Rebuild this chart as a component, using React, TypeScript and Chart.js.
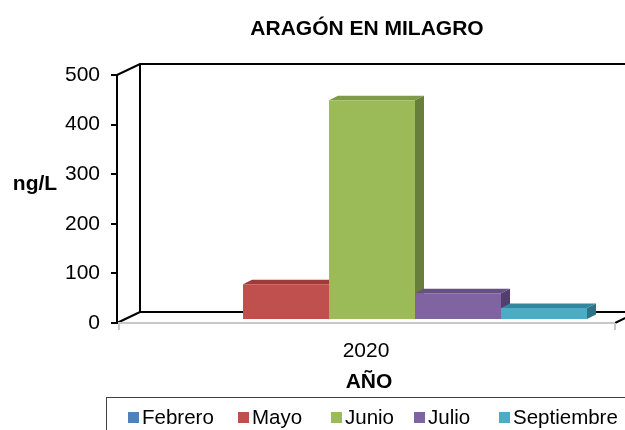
import React, { useEffect, useRef } from "react";
import { Chart, registerables } from "chart.js";

Chart.register(...registerables);

// ---- data ----
const categories = ["2020"];
const seriesNames = ["Febrero", "Mayo", "Junio", "Julio", "Septiembre"];
const febrero = [0];
const mayo = [72];
const junio = [443];
const julio = [54];
const septiembre = [24];
const seriesValues = [febrero, mayo, junio, julio, septiembre];
const yTicks = [0, 100, 200, 300, 400, 500];
const chartTitle = "ARAGÓN EN MILAGRO";
const yTitle = "ng/L";
const xTitle = "AÑO";

// ---- styles ----
const frontColors = ["#4F81BD", "#C0504D", "#9BBB59", "#8064A2", "#4BACC6"];
const topColors = ["#3C6596", "#9E3B39", "#7F9A48", "#654F83", "#32879E"];
const sideColors = ["#34578A", "#8A3431", "#677F3B", "#523F6C", "#2B7488"];
const FONT = '"Liberation Sans", Arial, Helvetica, sans-serif';

const WALL = { dx: 23, dy: -11 };
const BAR_SHIFT = { dx: 6, dy: -3 };
const BAR_DEPTH = { dx: 9, dy: -4.5 };
const LEGEND_X = [128, 238, 331, 414, 499];

const threeD = {
  id: "threeD",
  beforeDatasetsDraw(chart: any) {
    const ctx = chart.ctx;
    const a = chart.chartArea;
    ctx.save();
    // back wall + side wall outline
    ctx.strokeStyle = "#000";
    ctx.lineWidth = 2;
    ctx.lineJoin = "miter";
    ctx.beginPath();
    ctx.moveTo(a.left, a.top);
    ctx.lineTo(a.left + WALL.dx, a.top + WALL.dy);
    ctx.lineTo(a.right + WALL.dx, a.top + WALL.dy);
    ctx.moveTo(a.left + WALL.dx, a.top + WALL.dy);
    ctx.lineTo(a.left + WALL.dx, a.bottom + WALL.dy);
    ctx.lineTo(a.right + WALL.dx, a.bottom + WALL.dy);
    ctx.moveTo(a.left, a.bottom);
    ctx.lineTo(a.left + WALL.dx, a.bottom + WALL.dy);
    ctx.moveTo(a.right, a.bottom);
    ctx.lineTo(a.right + WALL.dx, a.bottom + WALL.dy);
    ctx.stroke();
    // front floor edge (gray)
    ctx.strokeStyle = "#C8C8C8";
    ctx.lineWidth = 2;
    ctx.beginPath();
    ctx.moveTo(a.left + 1, a.bottom);
    ctx.lineTo(a.right, a.bottom);
    ctx.moveTo(a.left + 2, a.bottom);
    ctx.lineTo(a.left + 2, a.bottom + 7);
    ctx.moveTo(a.right, a.bottom);
    ctx.lineTo(a.right, a.bottom + 7);
    ctx.stroke();

    // side and top faces of bars
    chart.data.datasets.forEach((ds: any, i: number) => {
      const meta = chart.getDatasetMeta(i);
      meta.data.forEach((bar: any, j: number) => {
        const v = ds.data[j];
        if (!v) return;
        const left = bar.x - bar.width / 2 + BAR_SHIFT.dx;
        const right = bar.x + bar.width / 2 + BAR_SHIFT.dx;
        const top = bar.y + BAR_SHIFT.dy;
        const bottom = bar.base + BAR_SHIFT.dy;
        ctx.fillStyle = sideColors[i];
        ctx.beginPath();
        ctx.moveTo(right, top);
        ctx.lineTo(right + BAR_DEPTH.dx, top + BAR_DEPTH.dy);
        ctx.lineTo(right + BAR_DEPTH.dx, bottom + BAR_DEPTH.dy);
        ctx.lineTo(right, bottom);
        ctx.closePath();
        ctx.fill();
        ctx.fillStyle = topColors[i];
        ctx.beginPath();
        ctx.moveTo(left, top);
        ctx.lineTo(right, top);
        ctx.lineTo(right + BAR_DEPTH.dx, top + BAR_DEPTH.dy);
        ctx.lineTo(left + BAR_DEPTH.dx, top + BAR_DEPTH.dy);
        ctx.closePath();
        ctx.fill();
      });
    });
    ctx.restore();
    ctx.save();
    ctx.translate(BAR_SHIFT.dx, BAR_SHIFT.dy);
  },
  afterDatasetsDraw(chart: any) {
    chart.ctx.restore();
  },
  afterDraw(chart: any) {
    const ctx = chart.ctx;
    const a = chart.chartArea;
    const xs = chart.scales.x;
    ctx.save();
    ctx.fillStyle = "#000";
    ctx.textAlign = "center";
    ctx.textBaseline = "alphabetic";
    // title
    ctx.font = `bold 21px ${FONT}`;
    ctx.fillText(chartTitle, (a.left + a.right) / 2 + 1, 35);
    // y title
    ctx.fillText(yTitle, 35, 190);
    // x labels
    ctx.font = `21px ${FONT}`;
    categories.forEach((c, k) => {
      ctx.fillText(c, xs.getPixelForValue(k), 357);
    });
    ctx.font = `bold 21px ${FONT}`;
    ctx.fillText(xTitle, (a.left + a.right) / 2 + 3, 388);
    // legend box
    ctx.strokeStyle = "#404040";
    ctx.lineWidth = 1;
    ctx.strokeRect(106.5, 397.5, 560, 60);
    ctx.font = `20.5px ${FONT}`;
    ctx.textAlign = "left";
    seriesNames.forEach((n, i) => {
      const x = LEGEND_X[i];
      ctx.fillStyle = frontColors[i];
      ctx.fillRect(x, 412, 11, 11);
      ctx.fillStyle = "#000";
      ctx.fillText(n, x + 14, 424);
    });
    ctx.restore();
  },
};

export default function App() {
  const ref = useRef<HTMLCanvasElement | null>(null);
  useEffect(() => {
    if (!ref.current) return;
    const chart = new Chart(ref.current, {
      type: "bar",
      data: {
        labels: categories,
        datasets: seriesNames.map((n, i) => ({
          label: n,
          data: seriesValues[i],
          backgroundColor: frontColors[i],
          borderWidth: 0,
          categoryPercentage: 0.8635,
          barPercentage: 1,
        })),
      },
      options: {
        animation: false,
        responsive: true,
        maintainAspectRatio: false,
        layout: { padding: { left: 0, top: 75, right: 10, bottom: 107 } },
        plugins: {
          legend: { display: false },
          title: { display: false },
          tooltip: { enabled: false },
        },
        scales: {
          x: { display: false },
          y: {
            min: 0,
            max: 500,
            afterBuildTicks: (s: any) => {
              s.ticks = yTicks.map((v) => ({ value: v }));
            },
            afterFit: (s: any) => {
              s.width = 117;
            },
            ticks: {
              color: "#000",
              font: { family: FONT, size: 21 },
              padding: 11,
            },
            grid: {
              drawOnChartArea: false,
              drawTicks: true,
              tickLength: 6,
              color: "#000",
              lineWidth: 2,
            },
            border: { display: true, color: "#000", width: 2 },
          },
        },
      },
      plugins: [threeD],
    } as any);
    return () => chart.destroy();
  }, []);
  return (
    <div style={{ position: "absolute", left: 0, top: 0, width: 625, height: 430, background: "#fff" }}>
      <canvas ref={ref} />
    </div>
  );
}
